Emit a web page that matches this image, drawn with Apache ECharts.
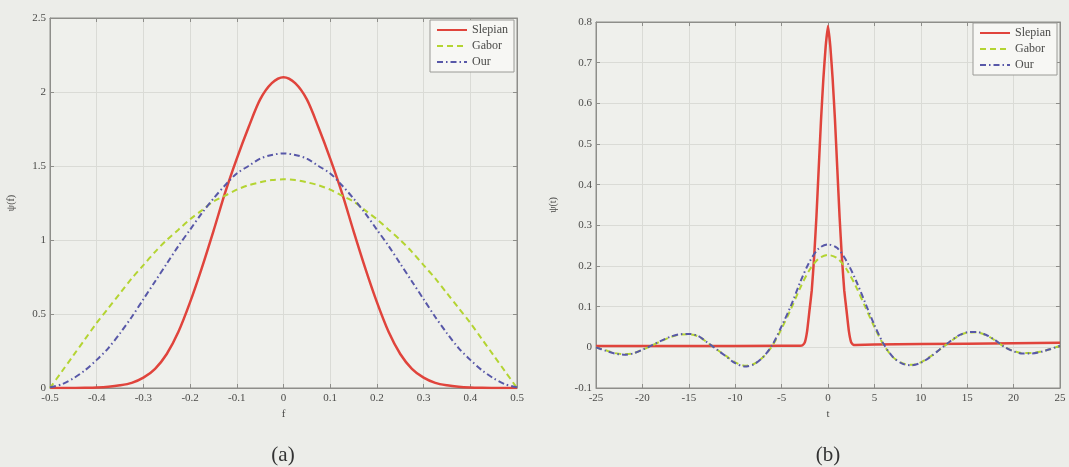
<!DOCTYPE html>
<html>
<head>
<meta charset="utf-8">
<script src="https://cdn.jsdelivr.net/npm/echarts@6/dist/echarts.min.js"></script>
<style>
html,body{margin:0;padding:0;background:#ecede9;}
#c{width:1069px;height:467px;}
</style>
</head>
<body>
<div id="c"></div>
<script>
// ---- Panel (a): frequency domain ----
const fVals = [-0.5,-0.475,-0.45,-0.425,-0.4,-0.375,-0.35,-0.325,-0.3,-0.275,-0.25,-0.225,-0.2,-0.175,-0.15,-0.125,-0.1,-0.075,-0.05,-0.025,0,
  0.025,0.05,0.075,0.1,0.125,0.15,0.175,0.2,0.225,0.25,0.275,0.3,0.325,0.35,0.375,0.4,0.425,0.45,0.475,0.5];
const slepianF = [0,0,0,0.001,0.003,0.008,0.018,0.035,0.07,0.13,0.23,0.38,0.58,0.81,1.06,1.32,1.55,1.76,1.95,2.06,2.10,
  2.06,1.95,1.76,1.55,1.32,1.06,0.81,0.58,0.38,0.23,0.13,0.07,0.035,0.018,0.008,0.003,0.001,0,0,0];
const gaborF = [0,0.11,0.22,0.33,0.44,0.54,0.64,0.74,0.83,0.92,1.00,1.07,1.14,1.20,1.26,1.30,1.34,1.37,1.39,1.405,1.41,
  1.405,1.39,1.37,1.34,1.30,1.26,1.20,1.14,1.07,1.00,0.92,0.83,0.74,0.64,0.54,0.44,0.33,0.22,0.11,0];
const ourF = [0.005,0.025,0.065,0.12,0.19,0.27,0.37,0.48,0.60,0.72,0.84,0.96,1.07,1.18,1.28,1.37,1.45,1.50,1.55,1.575,1.585,
  1.575,1.55,1.50,1.45,1.37,1.28,1.18,1.07,0.96,0.84,0.72,0.60,0.48,0.37,0.27,0.19,0.12,0.065,0.025,0.005];

// ---- Panel (b): time domain ----
const tVals = [-25,-24,-23,-22,-21,-20,-19,-18,-17,-16,-15,-14,-13,-12,-11,-10,-9,-8,-7,-6,-5,-4,-3,-2,-1,0,
  1,2,3,4,5,6,7,8,9,10,11,12,13,14,15,16,17,18,19,20,21,22,23,24,25];
const gaborT = [0,-0.007,-0.014,-0.017,-0.015,-0.006,0.004,0.015,0.025,0.031,0.032,0.027,0.012,-0.005,-0.021,-0.037,-0.045,-0.041,-0.024,0.004,0.046,0.094,0.146,0.190,0.218,0.227,
  0.219,0.192,0.150,0.100,0.050,0.006,-0.024,-0.039,-0.043,-0.037,-0.023,-0.006,0.011,0.027,0.036,0.037,0.030,0.017,0.001,-0.009,-0.014,-0.014,-0.010,-0.004,0.004];
const ourT = [0,-0.008,-0.015,-0.018,-0.015,-0.006,0.005,0.016,0.026,0.032,0.033,0.028,0.012,-0.005,-0.022,-0.039,-0.047,-0.042,-0.024,0.006,0.052,0.102,0.160,0.210,0.243,0.253,
  0.244,0.212,0.165,0.110,0.055,0.008,-0.024,-0.040,-0.044,-0.038,-0.024,-0.006,0.012,0.028,0.037,0.038,0.031,0.018,0.001,-0.010,-0.015,-0.015,-0.011,-0.004,0.004];
const tSlepian = [-25,-15,-5,-3,-2.75,-2.5,-2.25,-2,-1.75,-1.5,-1.25,-1,-0.75,-0.5,-0.25,0,0.25,0.5,0.75,1,1.25,1.5,1.75,2,2.25,2.5,2.75,3,5,15,25];
const slepianT = [0.003,0.003,0.004,0.004,0.005,0.012,0.04,0.09,0.14,0.22,0.32,0.44,0.56,0.66,0.74,0.79,0.74,0.66,0.56,0.44,0.32,0.22,0.14,0.09,0.04,0.012,0.006,0.006,0.007,0.009,0.011];

const seriesNames = ['Slepian','Gabor','Our'];
const xTicksA = {min:-0.5, max:0.5, interval:0.1};
const yTicksA = {min:0, max:2.5, interval:0.5};
const xTicksB = {min:-25, max:25, interval:5};
const yTicksB = {min:-0.1, max:0.8, interval:0.1};

const FONT = 'Liberation Serif';
const RED = '#e0443c', GREEN = '#b4d432', BLUE = '#5858a8';
const frameColor = '#8e8e8a', gridColor = '#dadbd6', txt = '#4a4a48';

function zip(a,b){return a.map((v,i)=>[v,b[i]]);}

function mainX(idx, t, name){
  return {gridIndex:idx, type:'value', min:t.min, max:t.max, interval:t.interval, name:name,
    nameLocation:'middle', nameGap:16, nameTextStyle:{fontFamily:FONT, fontSize:11, color:txt},
    axisLine:{onZero:false, lineStyle:{color:frameColor}}, axisTick:{inside:true, length:4, lineStyle:{color:frameColor}},
    axisLabel:{fontFamily:FONT, fontSize:11, color:txt, margin:5, showMinLabel:true, showMaxLabel:true},
    splitLine:{show:true, lineStyle:{color:gridColor, width:1}}};
}
function mainY(idx, t, name, gap){
  return {gridIndex:idx, type:'value', min:t.min, max:t.max, interval:t.interval, name:name,
    nameLocation:'middle', nameGap:gap, nameRotate:90, nameTextStyle:{fontFamily:FONT, fontSize:10, color:txt},
    axisLine:{show:true, onZero:false, lineStyle:{color:frameColor}}, axisTick:{show:true, inside:true, length:4, lineStyle:{color:frameColor}},
    axisLabel:{fontFamily:FONT, fontSize:11, color:txt, margin:4, showMinLabel:true, showMaxLabel:true},
    splitLine:{show:true, lineStyle:{color:gridColor, width:1}}};
}
function sideX(idx, t){
  return {gridIndex:idx, type:'value', position:'top', min:t.min, max:t.max, interval:t.interval,
    axisLine:{show:true, onZero:false, lineStyle:{color:frameColor}}, axisTick:{inside:true, length:4, lineStyle:{color:frameColor}},
    axisLabel:{show:false}, splitLine:{show:false}};
}
function sideY(idx, t){
  return {gridIndex:idx, type:'value', position:'right', min:t.min, max:t.max, interval:t.interval,
    axisLine:{show:true, onZero:false, lineStyle:{color:frameColor}}, axisTick:{show:true, inside:true, length:4, lineStyle:{color:frameColor}},
    axisLabel:{show:false}, splitLine:{show:false}};
}
function line(name, data, xi, yi, color, type, width, sm){
  return {name:name, type:'line', xAxisIndex:xi, yAxisIndex:yi, data:data, showSymbol:false, symbol:'none',
    smooth:sm, lineStyle:{color:color, width:width, type:type}, itemStyle:{color:color}, z:3, silent:true, animation:false};
}
function legend(right, top){
  return {right:right, top:top, orient:'vertical', data:seriesNames, backgroundColor:'#f7f7f4',
    borderColor:'#9a9a96', borderWidth:1, borderRadius:0, padding:[4,6,4,6], itemGap:4, itemWidth:30, itemHeight:12,
    itemStyle:{opacity:0}, textStyle:{fontFamily:FONT, fontSize:12, color:txt}, selectedMode:false};
}

const chart = echarts.init(document.getElementById('c'), null, {renderer:'canvas'});
chart.setOption({
  backgroundColor:'#ecede9',
  animation:false,
  grid:[
    {left:50, top:18, width:467, height:370, show:true, backgroundColor:'#eff0ec', borderColor:frameColor, borderWidth:1},
    {left:596, top:22, width:464, height:366, show:true, backgroundColor:'#eff0ec', borderColor:frameColor, borderWidth:1}
  ],
  xAxis:[mainX(0,xTicksA,'f'), mainX(1,xTicksB,'t'), sideX(0,xTicksA), sideX(1,xTicksB)],
  yAxis:[mainY(0,yTicksA,'\u03c8(f)',34), mainY(1,yTicksB,'\u03c8(t)',38), sideY(0,yTicksA), sideY(1,yTicksB)],
  legend:[legend(555,20), legend(12,23)],
  series:[
    line('Slepian', zip(fVals,slepianF), 0, 0, RED, 'solid', 2.5, 0.3),
    line('Gabor', zip(fVals,gaborF), 0, 0, GREEN, [6,4], 2, 0.3),
    line('Our', zip(fVals,ourF), 0, 0, BLUE, [6,3,1.5,3], 2, 0.3),
    line('Slepian', zip(tSlepian,slepianT), 1, 1, RED, 'solid', 2.5, 0.12),
    line('Gabor', zip(tVals,gaborT), 1, 1, GREEN, [6,4], 2, 0.3),
    line('Our', zip(tVals,ourT), 1, 1, BLUE, [6,3,1.5,3], 2, 0.3)
  ],
  graphic:[
    {type:'text', x:283, y:455, style:{text:'(a)', font:'21px "Liberation Serif"', fill:'#333', textAlign:'center', textVerticalAlign:'middle'}},
    {type:'text', x:828, y:455, style:{text:'(b)', font:'21px "Liberation Serif"', fill:'#333', textAlign:'center', textVerticalAlign:'middle'}}
  ]
});
</script>
</body>
</html>
